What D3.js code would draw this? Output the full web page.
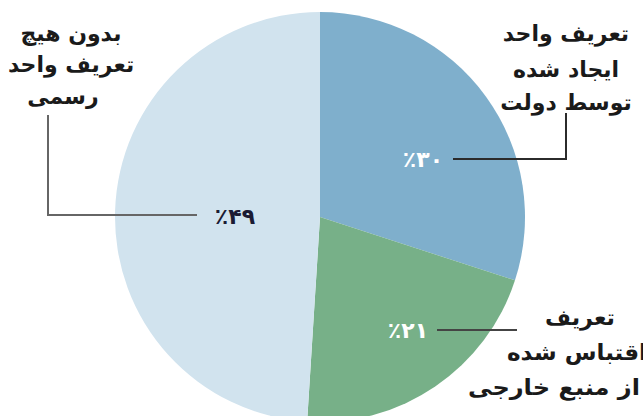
<!DOCTYPE html>
<html>
<head>
<meta charset="utf-8">
<script src="https://cdn.jsdelivr.net/npm/d3@7"></script>
<style>
  body { margin: 0; background: #fff; }
  text { font-family: "DejaVu Sans", sans-serif; font-weight: bold; }
</style>
</head>
<body>
<script>
// data
var categories = ["ایجاد شده توسط دولت", "اقتباس از منبع خارجی", "بدون هیچ تعریف"];
var values = [30, 21, 49];
var valueLabels = ["٪۳۰", "٪۲۱", "٪۴۹"];
var nameLines = [
  ["تعریف واحد", "ایجاد شده", "توسط دولت"],
  ["تعریف", "اقتباس شده", "از منبع خارجی"],
  ["بدون هیچ", "تعریف واحد", "رسمی"]
];
var colors = ["#7fafcc", "#77b088", "#d1e3ee"];

// layout (relative to pie centre)
var width = 643, height = 416;
var cx = 320, cy = 217, radius = 205;
var layout = [
  { lx: 103, ly: -58, fill: "#ffffff", lead: [[133, -58], [246, -58], [246, -104]], lc: "#2b2b2b",
    tx: [246, 246, 246], ty: [-184, -148, -115], tl: [null, null, null] },
  { lx: 88, ly: 113, fill: "#ffffff", lead: [[117, 113], [197, 113]], lc: "#444",
    tx: [260, 257, 234], ty: [100, 135, 170], tl: [70, 140, 172] },
  { lx: -85, ly: -1, fill: "#1b1b33", lead: [[-123, -2], [-272, -2], [-272, -102]], lc: "#666",
    tx: [-249, -249, -257], ty: [-184, -153, -121], tl: [null, null, null] }
];

var svg = d3.select("body").append("svg")
    .attr("width", width)
    .attr("height", height);

var g = svg.append("g")
    .attr("transform", "translate(" + cx + "," + cy + ")");

var pie = d3.pie().sort(null).value(function(d) { return d; });
var arc = d3.arc().innerRadius(0).outerRadius(radius);
var arcs = pie(values);

g.selectAll(".slice")
    .data(arcs)
  .enter().append("path")
    .attr("class", "slice")
    .attr("d", arc)
    .attr("fill", function(d, i) { return colors[i]; });

// leader lines
var line = d3.line();
g.selectAll(".lead")
    .data(layout)
  .enter().append("path")
    .attr("class", "lead")
    .attr("d", function(d) { return line(d.lead); })
    .attr("fill", "none")
    .attr("stroke", function(d) { return d.lc; })
    .attr("stroke-width", 2);

// percent labels
g.selectAll(".pct")
    .data(valueLabels)
  .enter().append("text")
    .attr("class", "pct")
    .attr("x", function(d, i) { return layout[i].lx; })
    .attr("y", function(d, i) { return layout[i].ly; })
    .attr("dy", "0.35em")
    .attr("text-anchor", "middle")
    .attr("font-size", 22)
    .attr("fill", function(d, i) { return layout[i].fill; })
    .text(function(d) { return d; });

// category names
nameLines.forEach(function(lines, i) {
  var t = g.append("g").selectAll("text")
      .data(lines)
    .enter().append("text")
      .attr("x", function(d, j) { return layout[i].tx[j]; })
      .attr("y", function(d, j) { return layout[i].ty[j]; })
      .attr("dy", "0.35em")
      .attr("text-anchor", "middle")
      .attr("direction", "rtl")
      .attr("font-size", 22)
      .attr("fill", "#1a1a1a")
      .text(function(d) { return d; });
  t.filter(function(d, j) { return layout[i].tl[j]; })
      .attr("textLength", function(d, j) { return layout[i].tl[lines.indexOf(d)]; })
      .attr("lengthAdjust", "spacingAndGlyphs");
});
</script>
</body>
</html>
